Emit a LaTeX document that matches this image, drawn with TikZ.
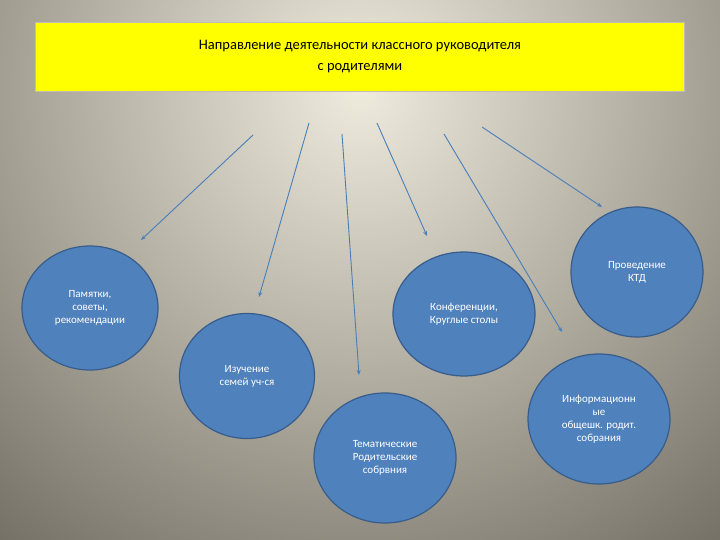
\documentclass[tikz,border=0pt]{standalone}
\usepackage{fontspec}
\setmainfont{Carlito}
\usetikzlibrary{arrows.meta,shapes.geometric}
\definecolor{bub}{HTML}{4F81BD}
\definecolor{bubd}{HTML}{385D8A}
\definecolor{arr}{HTML}{4A7EBB}
\definecolor{bgout}{RGB}{108,104,94}
\definecolor{bgin}{RGB}{238,234,220}
\begin{document}
\begin{tikzpicture}[x=1pt,y=-1pt,
  bubble/.style={ellipse,draw=bubd,line width=1.2pt,fill=bub,text=white,align=center,font=\fontsize{11}{13}\selectfont,inner sep=0pt},
  con/.style={arr,line width=0.9pt,-{Stealth[length=5pt,width=4pt]}}]
\useasboundingbox (0,0) rectangle (720,540);
\begin{scope}
\clip (0,0) rectangle (720,540);
\fill[bgout] (0,0) rectangle (720,540);
\shade[inner color=bgin,outer color=bgout] (360,90) circle[radius=620];
\end{scope}
\node[draw={rgb,255:red,190;green,190;blue,180},line width=1pt,fill={rgb,255:red,255;green,255;blue,0},minimum width=649pt,minimum height=69pt,anchor=north west,align=center,font=\fontsize{14.5}{21}\selectfont] (title) at (35,22) {Направление деятельности классного руководителя\\с родителями};
\path (90,308) node[bubble,minimum width=136pt,minimum height=124pt] (b1) {Памятки,\\советы,\\рекомендации};
\path (247,376) node[bubble,minimum width=135pt,minimum height=125pt] (b2) {Изучение\\семей уч-ся};
\path (385,458) node[bubble,minimum width=142pt,minimum height=130pt] (b3) {Тематические\\Родительские\\собрвния};
\path (464,314) node[bubble,minimum width=142pt,minimum height=124pt] (b4) {Конференции,\\Круглые столы};
\path (637,272) node[bubble,minimum width=132pt,minimum height=130pt] (b5) {Проведение\\КТД};
\path (599,419) node[bubble,minimum width=142pt,minimum height=130pt] (b6) {Информационн\\ые\\общешк. родит.\\собрания};
\coordinate (s1) at (253,135); \coordinate (e1) at (141,240);
\coordinate (s2) at (309,123); \coordinate (e2) at (259,297);
\coordinate (s3) at (342,134); \coordinate (e3) at (359,375);
\coordinate (s4) at (377,123); \coordinate (e4) at (427,236);
\coordinate (s5) at (444,134); \coordinate (e5) at (562,332);
\coordinate (s6) at (482,127); \coordinate (e6) at (602,207);
\foreach \i in {1,...,6} \draw[con] (s\i) -- (e\i);
\end{tikzpicture}
\end{document}
